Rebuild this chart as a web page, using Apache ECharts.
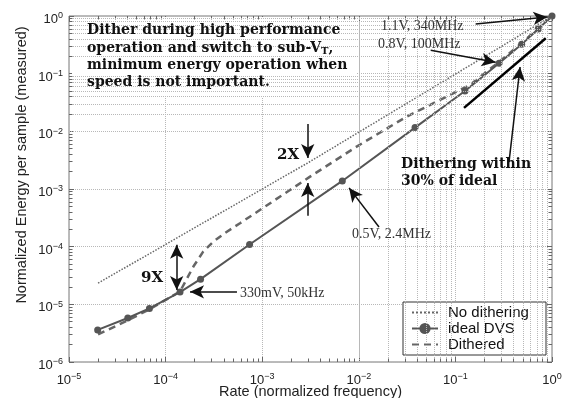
<!DOCTYPE html>
<html>
<head>
<meta charset="utf-8">
<script src="https://cdn.jsdelivr.net/npm/echarts@6/dist/echarts.min.js"></script>
<style>
  html, body { margin: 0; padding: 0; background: #fff; }
  #chart { width: 568px; height: 398px; }
</style>
</head>
<body>
<div id="chart"></div>
<script>
// values (log-log)
const rateIdeal = [1.98e-5, 4.06e-5, 6.8e-5, 1.41e-4, 2.3e-4, 7.4e-4, 6.75e-3, 0.0382, 0.1256, 0.283, 0.485, 0.72, 1.0]
const energyIdeal = [3.6e-6, 5.8e-6, 8.5e-6, 1.63e-5, 2.73e-5, 1.09e-4, 1.38e-3, 0.0116, 0.050, 0.151, 0.323, 0.595, 1.0]

const rateDithered = [2.0e-5, 4.0e-5, 6.8e-5, 1.41e-4, 1.94e-4, 2.44e-4, 3.10e-4, 4.12e-4, 5.89e-4, 1.94e-3, 3.13e-3, 9.5e-3, 0.0313, 0.1416, 0.283, 0.485, 0.72, 1.0]
const energyDithered = [3.0e-6, 5.2e-6, 8.2e-6, 1.67e-5, 4.52e-5, 8.13e-5, 1.21e-4, 1.73e-4, 2.55e-4, 9.6e-4, 1.64e-3, 5.43e-3, 0.018, 0.0637, 0.16, 0.34, 0.61, 1.0]

const rateNoDither = [2.0e-5, 2.96e-3, 1.0]
const energyNoDither = [2.33e-5, 2.83e-3, 1.0]

// black reference line next to the curve ("within 30% of ideal")
const rateGuide = [0.1228, 0.862]
const energyGuide = [0.0255, 0.411]

const xMin = 1e-5, xMax = 1
const yMin = 1e-6, yMax = 1

const zip = (xs, ys) => xs.map((x, i) => [x, ys[i]])

// minor grid values 2..9 x 10^d
const minors = (d0, d1) => {
    let out = []
    for (let d = d0; d < d1; d++) {
        for (let k = 2; k <= 9; k++) out.push(k * Math.pow(10, d))
    }
    return out
}
const minorX = minors(-5, 0)
const minorY = minors(-6, 0)

const gridLine = {type: 'dotted', color: '#b8b8b8', width: 1}
const tickLine = {type: 'solid', color: '#666', width: 1}
const tickX = Math.pow(10, 3.5 / 96.6)
const tickY = Math.pow(10, 3.5 / 57.7)

const gridMarks = []
minorX.forEach(v => {
    gridMarks.push({xAxis: v, lineStyle: gridLine})
    gridMarks.push([{coord: [v, yMin], lineStyle: tickLine}, {coord: [v, yMin * tickY]}])
    gridMarks.push([{coord: [v, yMax], lineStyle: tickLine}, {coord: [v, yMax / tickY]}])
})
minorY.forEach(v => {
    gridMarks.push({yAxis: v, lineStyle: gridLine})
    gridMarks.push([{coord: [xMin, v], lineStyle: tickLine}, {coord: [xMin * tickX, v]}])
    gridMarks.push([{coord: [xMax, v], lineStyle: tickLine}, {coord: [xMax / tickX, v]}])
})

const arrowStyle = {type: 'solid', color: '#111', width: 1.5}
const arrow = (from, to, both) => [
    {coord: from, symbol: both ? 'arrow' : 'none', lineStyle: arrowStyle},
    {coord: to, symbol: 'arrow'}
]
const arrows = [
    arrow([0.162, 0.727], [0.894, 0.96]),
    arrow([0.0555, 0.2545], [0.261, 0.158]),
    arrow([0.359, 2.95e-3], [0.467, 0.1306]),
    arrow([2.96e-3, 0.01343], [2.96e-3, 3.46e-3]),
    arrow([2.96e-3, 3.42e-4], [2.96e-3, 1.276e-3]),
    arrow([1.303e-4, 1.075e-4], [1.303e-4, 1.78e-5], true),
    arrow([5.48e-4, 1.648e-5], [1.79e-4, 1.648e-5]),
    arrow([0.01618, 2.2e-4], [7.93e-3, 1.045e-3])
]

const supLabel = v => {
    const e = Math.round(Math.log10(v))
    return '{b|10}{s|' + (e < 0 ? '\u2212' + (-e) : e) + '}'
}
const labelRich = {
    b: {fontSize: 13, fontFamily: 'Liberation Sans', color: '#222', padding: [7, 0, 0, 0]},
    s: {fontSize: 9, fontFamily: 'Liberation Sans', color: '#222'}
}

const serif = 'Liberation Serif'
const boldSerif = 'DejaVu Serif'
const noMarker = {opacity: 0}

const chart = echarts.init(document.getElementById('chart'))
chart.setOption({
    animation: false,
    backgroundColor: '#fff',
    grid: {
        left: 69, right: 16, top: 16, bottom: 36,
        outerBoundsMode: 'none', containLabel: false,
        show: true, borderColor: '#777', borderWidth: 1, backgroundColor: 'transparent'
    },
    legend: {
        data: [
            {name: 'No dithering', itemStyle: noMarker},
            {name: 'ideal DVS'},
            {name: 'Dithered', itemStyle: noMarker}
        ],
        orient: 'vertical',
        left: 403,
        top: 302,
        padding: [3, 5, 3, 8],
        itemWidth: 26,
        itemHeight: 14,
        itemGap: 1,
        backgroundColor: '#fff',
        borderColor: '#333',
        borderWidth: 1,
        textStyle: {fontSize: 15, lineHeight: 14, fontFamily: 'Liberation Sans', color: '#111', width: 93, padding: [0, 0, 0, 5]}
    },
    xAxis: [
        {
            type: 'log', logBase: 10, min: xMin, max: xMax,
            name: 'Rate (normalized frequency)', nameLocation: 'middle', nameGap: 22, nameMoveOverlap: false,
            nameTextStyle: {fontSize: 14.5, fontFamily: 'Liberation Sans', color: '#222'},
            axisLine: {show: false},
            axisTick: {inside: true, length: 5, lineStyle: {color: '#666'}},
            axisLabel: {margin: 5, formatter: supLabel, rich: labelRich},
            splitLine: {show: true, lineStyle: gridLine}
        },
        {
            type: 'log', logBase: 10, min: xMin, max: xMax, position: 'top',
            axisLine: {show: false},
            axisTick: {inside: true, length: 5, lineStyle: {color: '#666'}},
            axisLabel: {show: false},
            splitLine: {show: false}
        }
    ],
    yAxis: [
        {
            type: 'log', logBase: 10, min: yMin, max: yMax,
            axisLine: {show: false},
            axisTick: {inside: true, length: 5, lineStyle: {color: '#666'}},
            axisLabel: {margin: 6, formatter: supLabel, rich: labelRich},
            splitLine: {show: true, lineStyle: gridLine}
        },
        {
            type: 'log', logBase: 10, min: yMin, max: yMax, position: 'right',
            axisLine: {show: false},
            axisTick: {inside: true, length: 5, lineStyle: {color: '#666'}},
            axisLabel: {show: false},
            splitLine: {show: false}
        }
    ],
    series: [
        {
            name: 'grid',
            type: 'line',
            z: 0,
            data: [],
            silent: true,
            markLine: {silent: true, symbol: 'none', label: {show: false}, animation: false, data: gridMarks}
        },
        {
            name: 'No dithering',
            type: 'line',
            z: 3,
            symbol: 'none',
            lineStyle: {type: 'dotted', color: '#666', width: 1.5},
            itemStyle: {color: '#666'},
            data: zip(rateNoDither, energyNoDither)
        },
        {
            name: 'ideal DVS',
            type: 'line',
            z: 4,
            symbol: 'circle',
            symbolSize: 7,
            lineStyle: {color: '#555', width: 2},
            itemStyle: {color: '#555'},
            data: zip(rateIdeal, energyIdeal)
        },
        {
            name: 'Dithered',
            type: 'line',
            z: 3,
            symbol: 'none',
            lineStyle: {type: [7, 5], color: '#666', width: 2.5},
            itemStyle: {color: '#666'},
            data: zip(rateDithered, energyDithered)
        },
        {
            name: 'guide',
            type: 'line',
            z: 5,
            symbol: 'none',
            lineStyle: {color: '#000', width: 2.5},
            data: zip(rateGuide, energyGuide),
            markLine: {silent: true, symbolSize: [10, 14], label: {show: false}, animation: false, data: arrows}
        }
    ],
    graphic: [
        {type: 'rect', z: 1, shape: {x: 72, y: 17, width: 284, height: 80}, style: {fill: '#fff'}},
        {
            type: 'text', z: 10, x: 87, y: 22,
            style: {
                text: 'Dither during high performance\noperation and switch to sub-V{sub|T},\nminimum energy operation when\nspeed is not important.',
                fontFamily: boldSerif, fontWeight: 'bold', fontSize: 14, lineHeight: 17.3, fill: '#111',
                rich: {sub: {fontFamily: boldSerif, fontWeight: 'bold', fontSize: 10, padding: [7, 0, 0, 0], color: '#111'}}
            }
        },
        {type: 'text', z: 10, x: 381, y: 26, style: {text: '1.1V, 340MHz', fontFamily: serif, fontSize: 14, fill: '#333', verticalAlign: 'middle'}},
        {type: 'text', z: 10, x: 378, y: 44, style: {text: '0.8V, 100MHz', fontFamily: serif, fontSize: 14, fill: '#333', verticalAlign: 'middle'}},
        {type: 'text', z: 10, x: 352, y: 234, style: {text: '0.5V, 2.4MHz', fontFamily: serif, fontSize: 14, fill: '#333', verticalAlign: 'middle'}},
        {type: 'text', z: 10, x: 240, y: 293, style: {text: '330mV, 50kHz', fontFamily: serif, fontSize: 14, fill: '#333', verticalAlign: 'middle'}},
        {
            type: 'text', z: 10, x: 401, y: 156,
            style: {text: 'Dithering within\n30% of ideal', fontFamily: boldSerif, fontWeight: 'bold', fontSize: 14, lineHeight: 17, fill: '#111'}
        },
        {type: 'text', z: 10, x: 277, y: 155, style: {text: '2X', fontFamily: boldSerif, fontWeight: 'bold', fontSize: 15, fill: '#111', verticalAlign: 'middle'}},
        {type: 'text', z: 10, x: 141, y: 278, style: {text: '9X', fontFamily: boldSerif, fontWeight: 'bold', fontSize: 15, fill: '#111', verticalAlign: 'middle'}},
        {
            type: 'text', z: 10, x: 22, y: 165, rotation: Math.PI / 2,
            style: {text: 'Normalized Energy per sample (measured)', fontFamily: 'Liberation Sans', fontSize: 14.5, fill: '#222', align: 'center', verticalAlign: 'middle'}
        }
    ]
})
</script>
</body>
</html>
